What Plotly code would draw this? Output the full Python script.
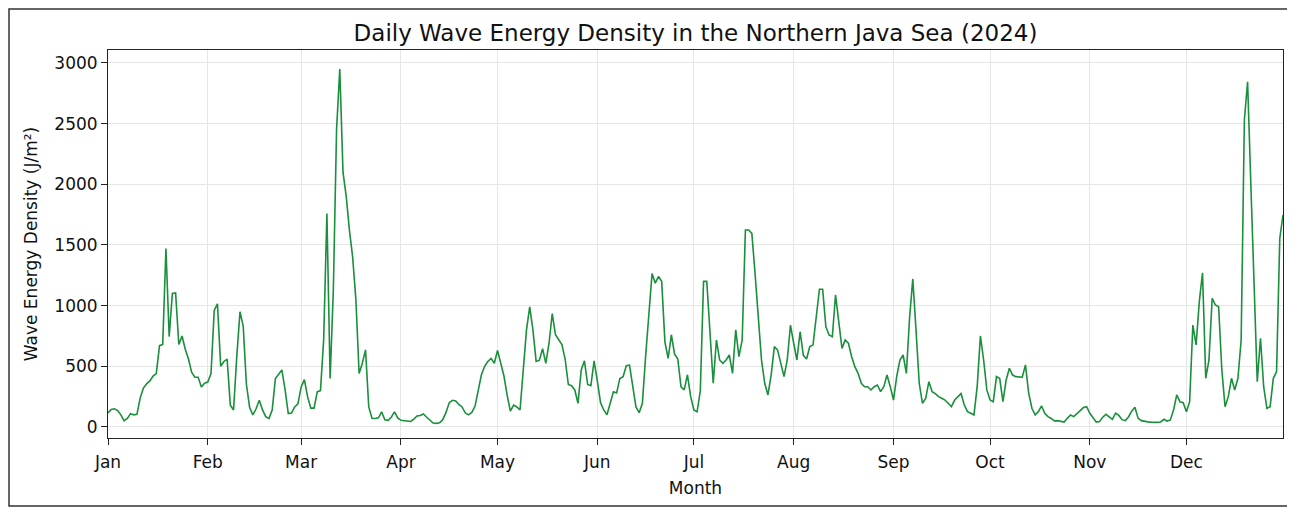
import pandas as pd
import plotly.graph_objects as go

# Daily wave energy density (J/m^2), 2024, one list per month
jan = [115, 145, 150, 135, 100, 50, 70, 110, 100, 105, 240, 320, 355, 380, 420, 440,
       670, 680, 1470, 745, 1100, 1105, 680, 750, 640, 560, 450, 410, 410, 330, 360]
feb = [370, 440, 960, 1015, 500, 540, 560, 180, 140, 580, 950, 830, 350, 160, 100,
       150, 220, 140, 85, 70, 140, 400, 440, 470, 310, 110, 115, 165, 190]
mar = [330, 390, 250, 155, 155, 290, 300, 720, 1760, 400, 1130, 2450, 2950, 2100, 1900,
       1620, 1400, 1050, 440, 525, 635, 165, 72, 70, 75, 125, 60, 55, 80, 125, 75]
apr = [55, 52, 48, 45, 65, 90, 95, 107, 80, 58, 32, 30, 35, 60, 120, 200, 220, 215,
       185, 165, 115, 100, 120, 170, 290, 430, 500, 540, 565, 525]
may = [630, 520, 420, 260, 130, 180, 165, 140, 440, 800, 990, 800, 540, 550, 645, 525,
       690, 935, 760, 720, 680, 560, 350, 340, 305, 195, 470, 545, 350, 340, 545]
jun = [380, 200, 140, 100, 195, 290, 280, 400, 415, 505, 510, 330, 165, 118, 195, 580,
       940, 1265, 1185, 1240, 1200, 700, 566, 760, 600, 560, 330, 305, 430, 250]
jul = [140, 125, 300, 1200, 1200, 744, 360, 717, 552, 525, 552, 593, 442, 800, 579, 717,
       1623, 1623, 1596, 1266, 909, 552, 360, 264, 428, 662, 634, 525, 415, 552, 840]
aug = [690, 552, 785, 590, 560, 662, 675, 909, 1135, 1135, 826, 758, 744, 1088, 882, 648,
       717, 690, 579, 497, 442, 360, 332, 332, 305, 332, 346, 291, 332, 428, 332]
sep = [222, 415, 552, 593, 442, 900, 1220, 800, 360, 195, 236, 373, 291, 275, 250, 236,
       222, 195, 167, 222, 250, 275, 181, 126, 113, 99, 332, 750, 552, 305]
oct_ = [222, 208, 415, 400, 208, 387, 484, 428, 415, 410, 410, 511, 278, 154, 99, 126,
        173, 113, 85, 70, 50, 52, 45, 40, 71, 99, 85, 113, 135, 160, 167]
nov = [113, 71, 40, 44, 80, 104, 85, 63, 113, 95, 60, 52, 82, 130, 162, 71, 52, 44, 42,
       40, 36, 38, 41, 63, 49, 58, 140, 264, 208, 200]
dec = [126, 208, 840, 676, 1033, 1270, 401, 552, 1060, 1005, 991, 470, 167, 250, 401,
       305, 401, 717, 2530, 2845, 2008, 1156, 373, 731, 332, 154, 167, 401, 456, 1555, 1747]

energy = jan + feb + mar + apr + may + jun + jul + aug + sep + oct_ + nov + dec
dates = pd.date_range("2024-01-01", "2024-12-31", freq="D")

y_ticks = [0, 500, 1000, 1500, 2000, 2500, 3000]

FONT = "DejaVu Sans"
OFF = 8                      # page body margin of the browser
W, H = 1295 - OFF, 509 - OFF
L, R, T = 108 - OFF, 12, 50 - OFF
ph = 388
B = H - T - ph
pw = W - L - R

fig = go.Figure()
fig.add_trace(go.Scatter(
    x=dates, y=energy, mode="lines",
    line=dict(color="#1a8f3c", width=1.6),
    name="Wave Energy Density",
))

fig.update_layout(
    width=W, height=H,
    margin=dict(l=L, r=R, t=T, b=B, autoexpand=False),
    paper_bgcolor="white", plot_bgcolor="white",
    showlegend=False,
    font=dict(family=FONT, size=17, color="#111"),
    title=dict(
        text="Daily Wave Energy Density in the Northern Java Sea (2024)",
        x=(L + pw / 2) / W, xanchor="center",
        y=1 - (33 - OFF) / H, yanchor="middle", yref="container",
        font=dict(family=FONT, size=23, color="#111"),
    ),
)

fig.update_xaxes(
    range=["2024-01-01", "2024-12-31"],
    tickformat="%b", dtick="M1", tick0="2024-01-01",
    showgrid=True, gridcolor="#e6e6e6", gridwidth=1,
    showline=True, linecolor="#222", linewidth=1, mirror=True,
    ticks="outside", ticklen=6, tickcolor="#222", ticklabelstandoff=3,
    tickfont=dict(family=FONT, size=17),
    title=dict(text="Month", font=dict(family=FONT, size=17), standoff=10),
    zeroline=False, automargin=False,
)
fig.update_yaxes(
    range=[-91, 3107],
    tickvals=y_ticks,
    showgrid=True, gridcolor="#e6e6e6", gridwidth=1,
    showline=True, linecolor="#222", linewidth=1, mirror=True,
    ticks="outside", ticklen=6, tickcolor="#222",
    tickfont=dict(family=FONT, size=17),
    title=dict(text="Wave Energy Density (J/m²)", font=dict(family=FONT, size=17), standoff=12),
    zeroline=False, automargin=False,
)

# outer figure border (page px: left 8, right 1290, bottom 506)
fig.add_shape(
    type="rect", xref="paper", yref="paper",
    x0=(1 - L) / pw, x1=(1290 - OFF - L) / pw,
    y0=(T + ph - (506 - OFF)) / ph, y1=(T + ph - 1) / ph,
    line=dict(color="#333", width=1.5), layer="below",
)

fig.write_html("out.html")
